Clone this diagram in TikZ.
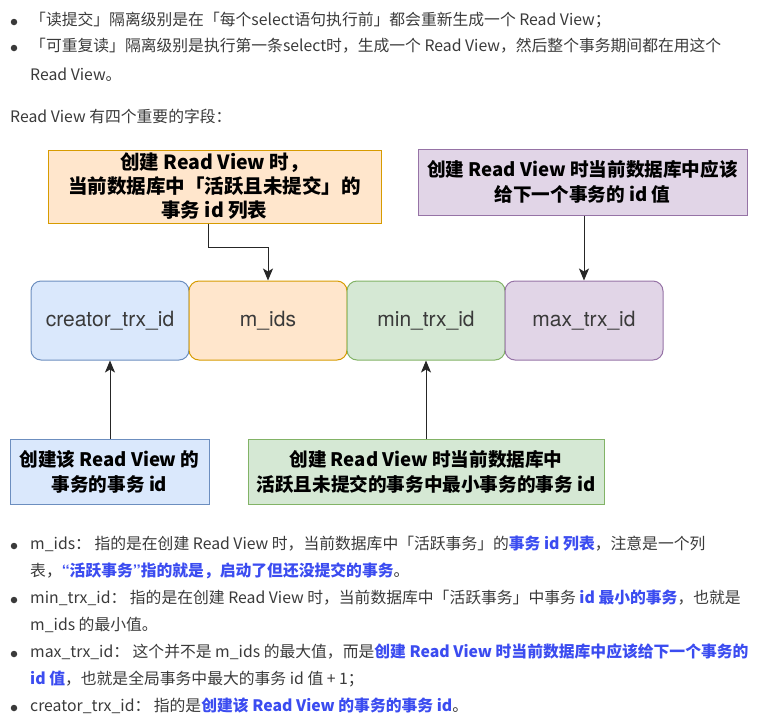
\documentclass[tikz,border=0pt]{standalone}
\usepackage{fontspec}
\setmainfont{Noto Sans CJK SC}
\newfontfamily\heros{TeX Gyre Heros}
\usetikzlibrary{arrows.meta}
\definecolor{txt}{HTML}{3A3A3A}
\definecolor{lblue}{HTML}{3B4CF0}
\definecolor{bfill}{HTML}{DAE8FC}\definecolor{bdraw}{HTML}{6C8EBF}
\definecolor{ofill}{HTML}{FFE6CC}\definecolor{odraw}{HTML}{D79B00}
\definecolor{gfill}{HTML}{D5E8D4}\definecolor{gdraw}{HTML}{82B366}
\definecolor{pfill}{HTML}{E1D5E7}\definecolor{pdraw}{HTML}{9673A6}
\newcommand{\hl}[1]{{\color{lblue}\bfseries #1}}
\newcommand{\myLq}{{\heros\bfseries “}}
\newcommand{\myRq}{{\heros\bfseries ”}}
\begin{document}
\begin{tikzpicture}[x=1pt,y=-1pt,
  body/.style={anchor=west,inner sep=0pt,text=txt,font=\fontsize{15.8}{18}\selectfont,text height=0.8em,text depth=0.2em},
  bul/.style={circle,fill=txt,inner sep=0pt,minimum size=6.5pt},
  field/.style={draw,line width=1pt,rounded corners=10pt,minimum width=158pt,minimum height=79pt,inner sep=0pt,text=txt,font=\heros\fontsize{21}{24}\selectfont},
  note/.style={draw,line width=1pt,inner sep=0pt,align=center,text=black,font=\bfseries\fontsize{18.6}{25}\selectfont},
  arr/.style={draw=black!85,line width=1pt,-{Stealth[length=12pt,width=10pt,inset=3pt]}}]
\useasboundingbox (0,0) rectangle (771,726);
% top text
\node[bul] (b1) at (14,22) {};
\node[body] (t1) at (30,22) {「读提交」隔离级别是在「每个select语句执行前」都会重新生成一个 Read View；};
\node[bul] (b2) at (14,48) {};
\node[body] (t2) at (30,48) {「可重复读」隔离级别是执行第一条select时，生成一个 Read View，然后整个事务期间都在用这个};
\node[body] (t3) at (30,77) {Read View。};
\node[body] (t4) at (10,119) {Read View 有四个重要的字段：};
% top boxes
\node[note,fill=ofill,draw=odraw,minimum width=333pt,minimum height=73pt,font=\bfseries\fontsize{19.5}{24}\selectfont] (ob) at (214.5,186.5) {创建 Read View 时，\\当前数据库中「活跃且未提交」的\\事务 id 列表};
\node[note,fill=pfill,draw=pdraw,minimum width=329pt,minimum height=66pt] (pb) at (582.5,182) {创建 Read View 时当前数据库中应该\\给下一个事务的 id 值};
% fields
\node[field,fill=bfill,draw=bdraw] (cr) at (110,320.5) {creator\_trx\_id};
\node[field,fill=ofill,draw=odraw] (mi) at (268,320.5) {m\_ids};
\node[field,fill=gfill,draw=gdraw] (mn) at (426,320.5) {min\_trx\_id};
\node[field,fill=pfill,draw=pdraw] (mx) at (584,320.5) {max\_trx\_id};
% bottom boxes
\node[note,fill=bfill,draw=bdraw,minimum width=199pt,minimum height=65pt] (bb) at (109.5,471.5) {创建该 Read View 的\\事务的事务 id};
\node[note,fill=gfill,draw=gdraw,minimum width=356pt,minimum height=65pt] (gb) at (426,471.5) {创建 Read View 时当前数据库中\\活跃且未提交的事务中最小事务的事务 id};
% arrows
\draw[arr] ([xshift=-6.5pt]ob.south) -- ++(0,24) -| (mi.north);
\draw[arr] (pb.south -| mx.north) -- (mx.north);
\draw[arr] (bb.north -| cr.south) -- (cr.south);
\draw[arr] (gb.north -| mn.south) -- (mn.south);
% bottom text
\node[bul] (c1) at (14,546) {};
\node[body] (u1) at (30,546) {m\_ids： 指的是在创建 Read View 时，当前数据库中「活跃事务」的\hl{事务 id 列表}，注意是一个列};
\node[body] (u2) at (30,573) {表，\hl{\myLq 活跃事务\myRq 指的就是，启动了但还没提交的事务}。};
\node[bul] (c2) at (14,600) {};
\node[body] (u3) at (30,600) {min\_trx\_id： 指的是在创建 Read View 时，当前数据库中「活跃事务」中事务 \hl{id 最小的事务}，也就是};
\node[body] (u4) at (30,627) {m\_ids 的最小值。};
\node[bul] (c3) at (14,654) {};
\node[body] (u5) at (30,654) {max\_trx\_id： 这个并不是 m\_ids 的最大值，而是\hl{创建 Read View 时当前数据库中应该给下一个事务的}};
\node[body] (u6) at (30,681) {\hl{id 值}，也就是全局事务中最大的事务 id 值 + 1；};
\node[bul] (c4) at (14,708) {};
\node[body] (u7) at (30,708) {creator\_trx\_id： 指的是\hl{创建该 Read View 的事务的事务 id}。};
\end{tikzpicture}
\end{document}
